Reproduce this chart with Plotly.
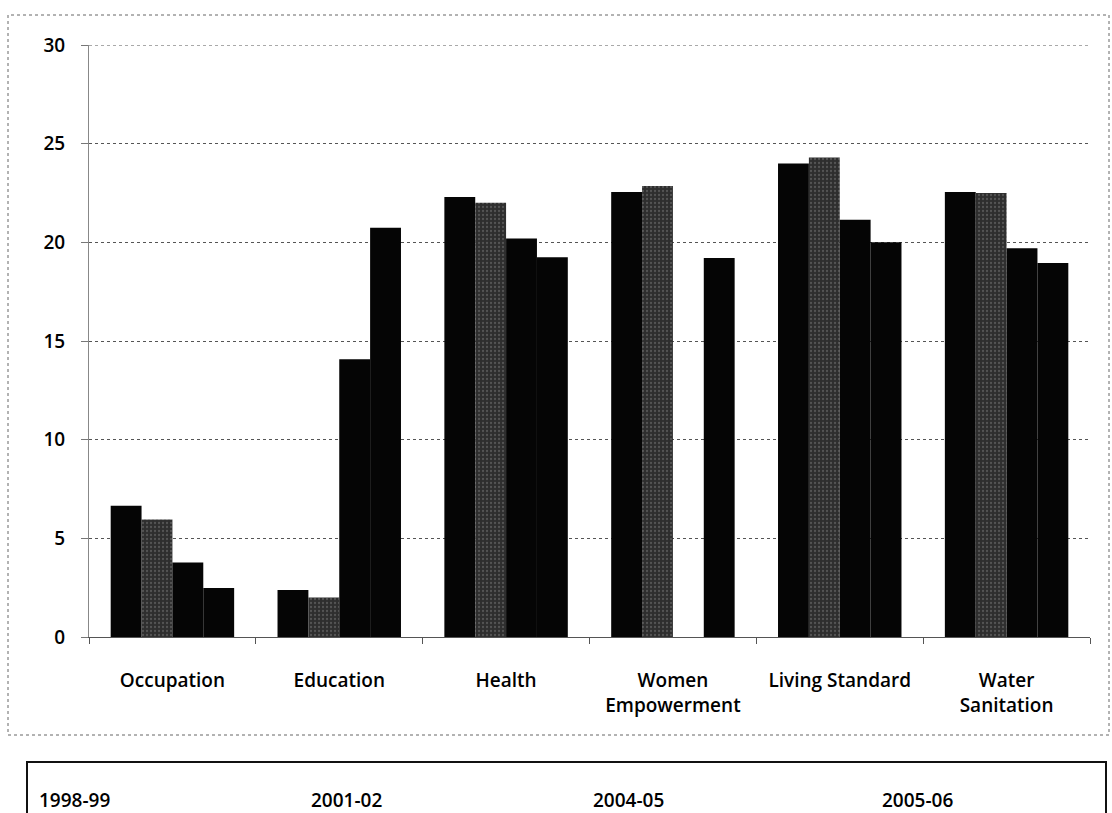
import plotly.graph_objects as go

# Indicator categories (x axis)
categories = ["Occupation", "Education", "Health", "Women<br>Empowerment",
              "Living Standard", "Water<br>Sanitation"]

# Survey rounds
series_names = ["1998-99", "2001-02", "2004-05", "2005-06"]

# Values per round, one entry per category
v_1998 = [6.65, 2.38, 22.3, 22.55, 24.0, 22.55]
v_2001 = [5.96, 2.0, 22.0, 22.85, 24.3, 22.5]
v_2004 = [3.77, 14.07, 20.2, 0, 21.15, 19.7]
v_2005 = [2.48, 20.74, 19.25, 19.2, 20.0, 18.95]

y_ticks = [0, 5, 10, 15, 20, 25, 30]

values = [v_1998, v_2001, v_2004, v_2005]
fills = ["#050505", "#2e2e2e", "#050505", "#050505"]

FONT = "Open Sans"
Y_MAX = 30

fig = go.Figure()
for name, vals, col in zip(series_names, values, fills):
    marker = dict(color=col, line=dict(width=0))
    if name == "2001-02":
        marker["pattern"] = dict(shape=".", fgcolor="#7a7a7a", size=4, solidity=0.25)
    fig.add_trace(go.Bar(x=categories, y=vals, name=name, marker=marker,
                         showlegend=False))

fig.update_layout(
    width=1112, height=813,
    paper_bgcolor="white", plot_bgcolor="white",
    barmode="group", bargap=0.26, bargroupgap=0,
    margin=dict(l=89, r=22, t=45, b=176),
    font=dict(family=FONT, size=19, color="black"),
)

fig.update_yaxes(
    range=[0, Y_MAX], tickvals=y_ticks, ticktext=[str(t) for t in y_ticks],
    showgrid=True, gridcolor="#555555", gridwidth=1, griddash="dot",
    showline=True, linecolor="#888888", linewidth=1,
    ticks="outside", ticklen=7, tickcolor="#777777",
    ticklabelstandoff=12, zeroline=False,
    tickfont=dict(family=FONT, size=19, color="black", weight=600),
)
fig.update_xaxes(
    showline=True, linecolor="#555555", linewidth=1,
    ticks="outside", tickson="boundaries", ticklen=6, tickcolor="#555555",
    ticklabelstandoff=26,
    tickfont=dict(family=FONT, size=19, color="black", weight=600),
)

# Top gridline at the axis maximum
fig.add_shape(type="line", xref="paper", yref="y", x0=0, x1=1, y0=Y_MAX, y1=Y_MAX,
              line=dict(color="#555555", width=1, dash="dot"))

# Outer chart frame
fig.add_shape(type="rect", xref="paper", yref="paper",
              x0=-81 / 1001, x1=1020 / 1001, y0=-98 / 592, y1=622 / 592,
              line=dict(color="#666666", width=1, dash="dot"), layer="below")

# Legend box with round labels
fig.add_shape(type="rect", xref="paper", yref="paper",
              x0=-62 / 1001, x1=1017 / 1001, y0=-200 / 592, y1=-125 / 592,
              line=dict(color="#111111", width=2))
legend_x = [37, 309, 591, 880]
for name, lx in zip(series_names, legend_x):
    fig.add_annotation(text=name, xref="paper", yref="paper",
                       x=(lx - 89) / 1001, y=(637 - 800) / 592,
                       xanchor="left", yanchor="middle", showarrow=False,
                       font=dict(family=FONT, size=19, color="black", weight=600))

fig.write_html("out.html")
